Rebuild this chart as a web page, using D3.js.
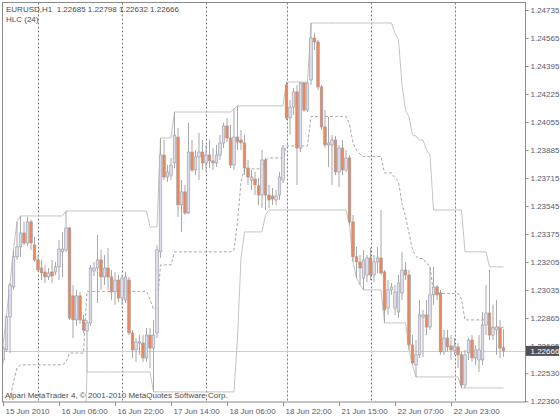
<!DOCTYPE html>
<html><head><meta charset="utf-8">
<script src="https://cdn.jsdelivr.net/npm/d3@7"></script>
<style>body{margin:0;background:#fff}svg{display:block}text{font-family:"Liberation Sans",Arial,sans-serif}</style>
</head><body><svg id="c" width="560" height="420"></svg>
<script>
const symbolTitle = "EURUSD,H1  1.22685 1.22798 1.22632 1.22666";
const indicatorTitle = "HLC (24)";
const copyrightText = "Alpari MetaTrader 4, \u00a9 2001-2010 MetaQuotes Software Corp.";
const lastPrice = 1.22666;

const open = [1.22611,1.22672,1.22872,1.23054,1.23237,1.23297,1.23382,1.23321,1.23449,1.23309,
1.23218,1.23169,1.23145,1.23115,1.23145,1.23145,1.23176,1.23267,1.23279,1.23412,
1.23000,1.22854,1.23000,1.22854,1.22787,1.22836,1.23151,1.23169,1.23218,1.23115,
1.23169,1.23115,1.23024,1.23096,1.22987,1.22975,1.23096,1.22775,1.22672,1.22714,
1.22714,1.22623,1.22762,1.22683,1.22775,1.23267,1.23855,1.23721,1.23733,1.23807,
1.23964,1.23552,1.23631,1.23503,1.23873,1.23764,1.23843,1.23873,1.23807,1.23855,
1.23819,1.23807,1.23855,1.23928,1.24031,1.23958,1.23794,1.23964,1.23946,1.23928,
1.23776,1.23703,1.23709,1.23667,1.23612,1.23825,1.23612,1.23606,1.23582,1.23612,
1.23703,1.24280,1.24080,1.24146,1.24238,1.23897,1.24292,1.24128,1.24310,1.24565,
1.24541,1.24268,1.24025,1.23916,1.23916,1.23946,1.23752,1.23897,1.23764,1.23837,
1.23449,1.23237,1.23206,1.23108,1.23127,1.23230,1.23127,1.23206,1.23230,1.23145,
1.22926,1.23036,1.22926,1.22902,1.23018,1.23157,1.23127,1.22702,1.22581,1.22642,
1.22872,1.22884,1.22811,1.23006,1.23054,1.23018,1.22660,1.22744,1.22696,1.22666,
1.22690,1.22642,1.22459,1.22654,1.22732,1.22623,1.22611,1.22611,1.22823,1.22896,
1.22762,1.22793,1.22805,1.22685];
const high = [1.22702,1.22884,1.23078,1.23279,1.23449,1.23485,1.23449,1.23479,1.23461,1.23358,
1.23249,1.23218,1.23188,1.23169,1.23218,1.23206,1.23339,1.23388,1.23515,1.23418,
1.23066,1.23036,1.23024,1.22884,1.22854,1.23188,1.23206,1.23370,1.23279,1.23249,
1.23291,1.23157,1.23145,1.23127,1.23127,1.23145,1.23115,1.22793,1.22744,1.22762,
1.22762,1.22805,1.22805,1.22854,1.23309,1.23958,1.23946,1.23794,1.23837,1.24116,
1.24019,1.23703,1.23673,1.24050,1.23946,1.23885,1.23989,1.23946,1.23916,1.23946,
1.23897,1.23916,1.23977,1.24050,1.24080,1.24037,1.24134,1.24153,1.24007,1.23977,
1.23825,1.23764,1.23752,1.23715,1.23885,1.23837,1.23673,1.23655,1.23643,1.23752,
1.23916,1.24298,1.24189,1.24262,1.24280,1.24298,1.24298,1.24298,1.24656,1.24596,
1.24553,1.24280,1.24128,1.24086,1.23977,1.23970,1.23916,1.23946,1.23885,1.23855,
1.23491,1.23297,1.23249,1.23279,1.23249,1.23291,1.23249,1.23297,1.23521,1.23157,
1.23096,1.23078,1.23066,1.23127,1.23267,1.23206,1.23157,1.22762,1.22732,1.22975,
1.22914,1.22975,1.23176,1.23176,1.23066,1.23036,1.22793,1.22793,1.22762,1.22744,
1.22714,1.22660,1.22672,1.22744,1.22762,1.22702,1.22762,1.22902,1.23066,1.23157,
1.22945,1.22975,1.22854,1.22798];
const low = [1.22587,1.22660,1.22654,1.23036,1.23218,1.23237,1.23309,1.23303,1.23279,1.23206,
1.23145,1.23096,1.23078,1.23096,1.23078,1.23127,1.23096,1.23115,1.23267,1.22854,
1.22744,1.22818,1.22830,1.22775,1.22538,1.22818,1.23121,1.22957,1.23036,1.23066,
1.23036,1.22975,1.22945,1.22963,1.22945,1.22957,1.22762,1.22623,1.22599,1.22642,
1.22599,1.22599,1.22562,1.22417,1.22744,1.23230,1.23703,1.23691,1.23703,1.23776,
1.23479,1.23388,1.23491,1.23497,1.23752,1.23733,1.23703,1.23764,1.23752,1.23776,
1.23764,1.23782,1.23825,1.23897,1.23934,1.23776,1.23764,1.23885,1.23885,1.23733,
1.23673,1.23643,1.23612,1.23552,1.23533,1.23521,1.23533,1.23552,1.23552,1.23582,
1.23685,1.24068,1.23977,1.24098,1.23673,1.23873,1.24116,1.24116,1.24280,1.24492,
1.24250,1.24007,1.23897,1.23782,1.23673,1.23733,1.23661,1.23733,1.23752,1.23430,
1.23206,1.23108,1.23066,1.23036,1.23084,1.23096,1.23084,1.23139,1.23127,1.22836,
1.22884,1.23006,1.22884,1.22866,1.22975,1.23096,1.22672,1.22581,1.22508,1.22623,
1.22629,1.22762,1.22793,1.22945,1.22975,1.22642,1.22642,1.22660,1.22611,1.22642,
1.22562,1.22441,1.22441,1.22611,1.22599,1.22581,1.22538,1.22581,1.22762,1.22732,
1.22732,1.22642,1.22623,1.22632];
const close = [1.22683,1.22872,1.23066,1.23237,1.23297,1.23382,1.23321,1.23449,1.23321,1.23218,
1.23157,1.23139,1.23115,1.23139,1.23121,1.23176,1.23284,1.23284,1.23412,1.22866,
1.22854,1.23000,1.22854,1.22793,1.22836,1.23169,1.23169,1.23218,1.23115,1.23169,
1.23115,1.23024,1.23096,1.22987,1.23108,1.23115,1.22775,1.22672,1.22720,1.22720,
1.22623,1.22762,1.22683,1.22762,1.23279,1.23855,1.23721,1.23752,1.23794,1.23976,
1.23552,1.23631,1.23503,1.23873,1.23764,1.23843,1.23873,1.23807,1.23855,1.23819,
1.23807,1.23855,1.23928,1.24031,1.23958,1.23794,1.23964,1.23934,1.23928,1.23776,
1.23721,1.23721,1.23673,1.23612,1.23825,1.23612,1.23582,1.23588,1.23606,1.23721,
1.23897,1.24080,1.24146,1.24238,1.23897,1.24292,1.24128,1.24292,1.24565,1.24541,
1.24268,1.24025,1.23916,1.23928,1.23946,1.23752,1.23897,1.23764,1.23837,1.23449,
1.23237,1.23206,1.23169,1.23218,1.23230,1.23127,1.23206,1.23230,1.23139,1.22914,
1.23036,1.23054,1.23024,1.23078,1.23157,1.23127,1.22702,1.22593,1.22642,1.22884,
1.22884,1.22811,1.23006,1.23054,1.23006,1.22660,1.22744,1.22690,1.22672,1.22696,
1.22642,1.22459,1.22642,1.22732,1.22623,1.22672,1.22672,1.22823,1.22896,1.22762,
1.22805,1.22811,1.22683,1.22666];

const hlcUpper = [1.22702,1.22884,1.23078,1.23279,1.23449,
1.23485,1.23485,1.23485,1.23485,1.23485,1.23485,1.23485,1.23485,1.23485,1.23485,1.23485,1.23485,1.23485,
1.23515,1.23515,1.23515,1.23515,1.23515,1.23515,1.23515,1.23515,1.23515,1.23515,1.23515,1.23515,
1.23515,1.23515,1.23515,1.23515,1.23515,1.23515,1.23515,1.23515,1.23515,1.23515,1.23515,1.23515,
1.23418,1.23418,1.23418,
1.23958,1.23958,1.23958,1.23958,
1.24116,1.24116,1.24116,1.24116,1.24116,1.24116,1.24116,1.24116,1.24116,1.24116,1.24116,1.24116,1.24116,1.24116,1.24116,1.24116,1.24116,
1.24134,
1.24153,1.24153,1.24153,1.24153,1.24153,1.24153,1.24153,1.24153,1.24153,1.24153,1.24153,1.24153,1.24153,1.24153,
1.24298,1.24298,1.24298,1.24298,1.24298,1.24298,1.24298,
1.24656,1.24656,1.24656,1.24656,1.24656,1.24656,1.24656,1.24656,1.24656,1.24656,1.24656,1.24656,
1.24656,1.24656,1.24656,1.24656,1.24656,1.24656,1.24656,1.24656,1.24656,1.24656,1.24656,1.24656,
1.24596,1.24553,1.24280,1.24128,1.24086,1.23977,1.23970,1.23946,1.23946,1.23885,1.23855,
1.23521,1.23521,1.23521,1.23521,1.23521,1.23521,1.23521,1.23521,1.23521,
1.23267,1.23267,1.23267,1.23267,1.23267,1.23267,1.23267,
1.23176,1.23176,1.23176,1.23176,1.23176];
const hlcLower = [1.21676,1.21676,1.21676,1.21676,1.21676,1.21676,1.21676,1.21676,1.21676,1.21676,
1.21676,1.21676,1.21676,1.21676,1.21676,1.21676,1.21676,1.21676,1.21676,
1.21791,1.21791,1.21791,1.21791,1.21791,
1.22538,1.22538,1.22538,1.22538,1.22538,1.22538,1.22538,1.22538,1.22538,1.22538,
1.22538,1.22538,1.22538,1.22538,1.22538,1.22538,1.22538,1.22538,1.22538,
1.22417,1.22417,1.22417,1.22417,1.22417,1.22417,1.22417,1.22417,1.22417,1.22417,1.22417,1.22417,
1.22417,1.22417,1.22417,1.22417,1.22417,1.22417,1.22417,1.22417,1.22417,1.22417,1.22417,1.22417,
1.22744,1.23230,
1.23388,1.23388,1.23388,1.23388,1.23388,1.23388,
1.23491,
1.23521,1.23521,1.23521,1.23521,1.23521,1.23521,1.23521,1.23521,1.23521,1.23521,1.23521,1.23521,
1.23521,1.23521,1.23521,1.23521,1.23521,1.23521,1.23521,1.23521,1.23521,1.23521,1.23521,
1.23430,1.23206,1.23108,1.23066,
1.23036,1.23036,1.23036,1.23036,1.23036,1.23036,
1.22836,1.22836,1.22836,1.22836,1.22836,1.22836,1.22836,
1.22672,1.22581,
1.22508,1.22508,1.22508,1.22508,1.22508,1.22508,1.22508,1.22508,1.22508,1.22508,1.22508,1.22508,1.22508,
1.22441,1.22441,1.22441,1.22441,1.22441,1.22441,1.22441,1.22441,1.22441,1.22441,1.22441,1.22441,1.22441];
const hlcMiddle = [1.22189,1.22280,1.22377,1.22478,1.22563,
1.22581,1.22581,1.22581,1.22581,1.22581,1.22581,1.22581,1.22581,1.22581,1.22581,1.22581,1.22581,1.22581,
1.22596,
1.22653,1.22653,1.22653,1.22653,1.22653,
1.23027,1.23027,1.23027,1.23027,1.23027,1.23027,1.23027,1.23027,1.23027,
1.23027,1.23027,1.23027,1.23027,1.23027,1.23027,1.23027,1.23027,1.23027,
1.22978,
1.22918,1.22918,
1.23188,1.23188,1.23188,1.23188,
1.23267,1.23267,1.23267,1.23267,1.23267,1.23267,1.23267,1.23267,1.23267,1.23267,1.23267,1.23267,1.23267,1.23267,1.23267,1.23267,1.23267,
1.23276,1.23449,1.23692,
1.23771,1.23771,1.23771,1.23771,1.23771,1.23771,
1.23822,
1.23837,1.23837,1.23837,1.23837,1.23837,
1.23910,1.23910,1.23910,1.23910,1.23910,1.23910,1.23910,
1.24089,1.24089,1.24089,1.24089,1.24089,1.24089,1.24089,1.24089,1.24089,1.24089,1.24089,
1.24043,1.23931,1.23882,1.23861,
1.23846,1.23846,1.23846,1.23846,1.23846,1.23846,
1.23746,1.23746,1.23746,
1.23716,1.23695,1.23558,1.23482,1.23379,1.23279,1.23239,1.23227,1.23227,1.23197,1.23182,
1.23015,1.23015,1.23015,1.23015,1.23015,1.23015,1.23015,1.23015,
1.22981,
1.22854,1.22854,1.22854,1.22854,1.22854,1.22854,1.22854,
1.22809,1.22809,1.22809,1.22809,1.22809];

const priceTicks = [1.24735,1.24565,1.24395,1.24225,1.24055,1.23885,1.23715,1.23545,1.23375,1.23205,1.23035,1.22865,1.22695,1.22530,1.22360];
const priceTickLabels = ["1.24735","1.24565","1.24395","1.24225","1.24055","1.23885","1.23715","1.23545","1.23375","1.23205","1.23035","1.22865","1.22695","1.22530","1.22360"];
const timeTickIndex = [0,16,32,48,64,80,96,112,128];
const timeTickLabels = ["15 Jun 2010","16 Jun 06:00","16 Jun 22:00","17 Jun 14:00","18 Jun 06:00","18 Jun 22:00","21 Jun 15:00","22 Jun 07:00","22 Jun 23:00"];
const daySeparatorIndex = [10,34,58,81,105,129];

const frame = {l:2.5, t:2.5, r:525.5, b:402};
const svg = d3.select("#c");
const x = d3.scaleLinear().domain([0, close.length - 1]).range([3, 503.5]);
const y = d3.scaleLinear().domain([1.22360, 1.24735]).range([401.3, 10]);

svg.append("defs").append("clipPath").attr("id","clip").append("rect")
  .attr("x",frame.l).attr("y",frame.t).attr("width",frame.r-frame.l).attr("height",frame.b-frame.t);
const plot = svg.append("g").attr("clip-path","url(#clip)");

// day separators
plot.selectAll("line.sep").data(daySeparatorIndex).join("line").attr("class","sep")
  .attr("x1",d=>Math.round(x(d))+0.5).attr("x2",d=>Math.round(x(d))+0.5)
  .attr("y1",frame.t).attr("y2",frame.b)
  .attr("stroke","#7a7a7a").attr("stroke-width",1).attr("stroke-dasharray","2,2");

// bid line
plot.append("line").attr("x1",frame.l).attr("x2",frame.r)
  .attr("y1",Math.round(y(lastPrice))+0.5).attr("y2",Math.round(y(lastPrice))+0.5)
  .attr("stroke","#cfcfcf").attr("stroke-width",1);

// HLC indicator
const ln = d3.line().x((d,i)=>x(i)).y(d=>y(d));
plot.append("path").attr("d",ln(hlcUpper)).attr("fill","none").attr("stroke","#c4c4c4").attr("stroke-width",1);
plot.append("path").attr("d",ln(hlcLower)).attr("fill","none").attr("stroke","#c4c4c4").attr("stroke-width",1);
plot.append("path").attr("d",ln(hlcMiddle)).attr("fill","none").attr("stroke","#a8a8a8").attr("stroke-width",1).attr("stroke-dasharray","3,2");

// candles
const bars = close.map((c,i)=>({i,o:open[i],h:high[i],l:low[i],c}));
const g = plot.selectAll("g.bar").data(bars).join("g").attr("class","bar");
g.append("line").attr("x1",d=>x(d.i)).attr("x2",d=>x(d.i))
  .attr("y1",d=>y(d.h)).attr("y2",d=>y(d.l)).attr("stroke","#a8a8a8").attr("stroke-width",1);
g.append("rect").attr("x",d=>x(d.i)-1.3).attr("width",2.6)
  .attr("y",d=>y(Math.max(d.o,d.c))).attr("height",d=>Math.max(0.8,Math.abs(y(d.o)-y(d.c))))
  .attr("fill",d=>d.c>=d.o?"#dcdcea":"#ef8653")
  .attr("stroke","#9a9aa4").attr("stroke-width",0.6);

// frame
svg.append("rect").attr("x",frame.l).attr("y",frame.t).attr("width",frame.r-frame.l).attr("height",frame.b-frame.t)
  .attr("fill","none").attr("stroke","#8a8a8a").attr("stroke-width",1);

// price axis
const ya = svg.append("g").attr("transform",`translate(${frame.r},0)`)
  .call(d3.axisRight(y).tickValues(priceTicks).tickFormat((d,i)=>priceTickLabels[i]).tickSize(3).tickPadding(2));
ya.select(".domain").remove();
ya.selectAll("line").attr("stroke","#8a8a8a");
ya.selectAll("text").attr("fill","#5a5a66").style("font-size","8px").style("font-family","'Liberation Sans',Arial,sans-serif");

// time axis
const xa = svg.append("g").attr("transform",`translate(0,${frame.b})`)
  .call(d3.axisBottom(x).tickValues(timeTickIndex).tickFormat((d,i)=>timeTickLabels[i]).tickSize(4));
xa.select(".domain").remove();
xa.selectAll("line").attr("stroke","#8a8a8a");
xa.selectAll("text").attr("fill","#5a5a66").style("font-size","8px").style("font-family","'Liberation Sans',Arial,sans-serif")
  .style("text-anchor","start").attr("x",2).attr("y",6).attr("dy","0.71em");

// last price box
const ly = y(lastPrice);
svg.append("rect").attr("x",frame.r+0.5).attr("y",ly-5).attr("width",33).attr("height",10).attr("fill","#4f4f55");
svg.append("text").attr("x",frame.r+5).attr("y",ly).attr("dy","0.33em").attr("fill","#fff")
  .style("font-size","8px").text(d3.format(".5f")(lastPrice));

// titles
svg.append("text").attr("x",6).attr("y",12).attr("fill","#4a4a55").style("font-size","8px").style("white-space","pre").text(symbolTitle);
svg.append("text").attr("x",6).attr("y",22).attr("fill","#4a4a55").style("font-size","8px").text(indicatorTitle);
svg.append("text").attr("x",5).attr("y",398).attr("fill","#4a4a55").style("font-size","8px").text(copyrightText);
</script></body></html>
